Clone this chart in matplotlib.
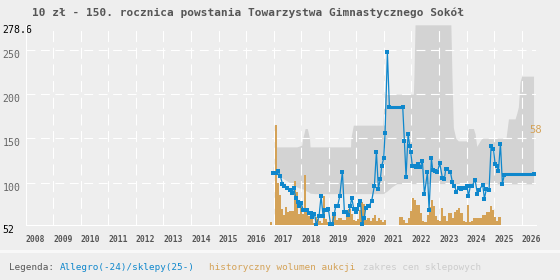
import matplotlib
matplotlib.use("Agg")
import matplotlib.pyplot as plt
from matplotlib.patches import Rectangle
import matplotlib.transforms as mtransforms

# --- data ---
title = "10 zł - 150. rocznica powstania Towarzystwa Gimnastycznego Sokół"

# shop price range (zakres cen sklepowych)
shop_x = [2016.977, 2017.04, 2017.05, 2017.45, 2017.84, 2018.02, 2018.05, 2018.10, 2018.14,
          2018.22, 2018.26, 2018.30, 2018.32, 2018.50, 2019.79, 2019.80, 2019.89, 2020.96,
          2021.00, 2021.04, 2021.10, 2021.28, 2021.47, 2022.07, 2022.09, 2022.13, 2023.43,
          2023.47, 2023.52, 2023.61, 2023.70, 2024.00, 2024.07, 2024.25, 2024.31, 2024.37,
          2024.49, 2024.55, 2025.43, 2025.52, 2025.76, 2025.82, 2025.88, 2025.94, 2026.00,
          2026.43]
shop_hi = [118, 118, 140.4, 140.4, 140.4, 142.3, 150, 155.5, 161.2,
           161.2, 155.5, 150, 140.4, 140.4, 140.4, 150, 165, 165,
           190, 200, 200, 200, 200, 200, 220, 278.6, 278.6,
           220, 162.3, 150, 147.2, 147.2, 161.2, 161.2, 155, 141,
           147.2, 150, 150, 172.1, 172.1, 178.2, 185.7, 214, 220.5,
           220.5]
shop_lo = [112, 110, 110, 102.6, 95, 93, 93, 92, 91.3,
           90, 89.5, 88.5, 88, 87.5, 87.5, 87.5, 87.5, 87.5,
           88, 89, 90, 95, 98.8, 98.8, 98.8, 98.8, 98.8,
           98.8, 98.8, 98.8, 98.8, 98.8, 98.8, 98.8, 98.5, 98.5,
           98.5, 98.5, 98.5, 98.5, 98.5, 98.5, 98.5, 98.5, 98.5,
           98.5]

# Allegro / shop price points
price_x = [2016.965, 2017.074, 2017.146, 2017.243, 2017.316, 2017.388, 2017.485, 2017.582,
           2017.654, 2017.727, 2017.799, 2017.872, 2017.921, 2017.993, 2018.066, 2018.138,
           2018.211, 2018.284, 2018.356, 2018.405, 2018.477, 2018.550, 2018.647, 2018.719,
           2018.792, 2018.864, 2018.937, 2018.985, 2019.058, 2019.131, 2019.203, 2019.252,
           2019.324, 2019.397, 2019.493, 2019.566, 2019.639, 2019.711, 2019.784, 2019.832,
           2019.905, 2019.977, 2020.026, 2020.098, 2020.147, 2020.219, 2020.292, 2020.340,
           2020.413, 2020.461, 2020.558, 2020.655, 2020.728, 2020.800, 2020.873, 2020.921,
           2020.994, 2021.042, 2021.127, 2021.199, 2021.683, 2021.744, 2021.804, 2021.877,
           2021.937, 2021.974, 2022.034, 2022.107, 2022.155, 2022.228, 2022.325, 2022.397,
           2022.470, 2022.579, 2022.639, 2022.724, 2022.772, 2022.857, 2022.942, 2023.026,
           2023.123, 2023.196, 2023.244, 2023.305, 2023.414, 2023.486, 2023.559, 2023.631,
           2023.728, 2023.801, 2023.874, 2023.958, 2024.019, 2024.067, 2024.140, 2024.212,
           2024.309, 2024.394, 2024.466, 2024.587, 2024.648, 2024.721, 2024.817, 2024.890,
           2024.975, 2025.035, 2025.107, 2025.156, 2025.229, 2025.301, 2025.373, 2026.438]
price_y = [111.3, 111.3, 113.6, 107.2, 98.8, 96.6, 94.3, 92.0,
           88.6, 94.3, 83.0, 78.1, 73.9, 77.3, 69.4, 69.4,
           69.4, 65.6, 65.6, 61.0, 64.8, 52.0, 62.5, 84.5,
           62.5, 69.4, 69.4, 70.5, 53.5, 53.5, 64.8, 73.9,
           73.9, 84.5, 112.4, 67.1, 67.1, 63.7, 73.9, 83.0,
           70.5, 67.1, 70.5, 75.0, 78.8, 53.5, 60.3, 71.6,
           73.1, 73.1, 79.5, 96.6, 135.1, 93.2, 104.5, 119.2,
           127.5, 156.6, 247.3, 185.7, 185.7, 146.9, 106.4, 155.5,
           141.2, 134.4, 118.5, 118.5, 117.7, 120.8, 117.7, 124.9,
           86.7, 111.7, 69.4, 127.5, 113.9, 113.2, 112.1, 121.9,
           105.3, 104.5, 115.1, 115.5, 112.1, 100.3, 96.6, 89.8,
           94.3, 92.4, 93.9, 93.9, 96.2, 84.5, 96.6, 96.6,
           103.4, 86.7, 92.0, 97.7, 81.8, 93.2, 92.0, 141.5,
           138.5, 121.5, 118.9, 112.8, 144.2, 98.8, 109.0, 110.2]
# periods where the price is held flat (no new quotes)
hold_start = [2016.965, 2021.199, 2025.373]
hold_end = [2017.074, 2021.683, 2026.438]
hold_price = [111.3, 185.7, 110.2]

# historical auction volume, one bar per 4 weeks
vol_start = 2016.915
vol_step = 28 / 365.25
volume = [1.7, 0,
          58.0, 24.4, 17.7, 9.4, 5.6, 10.6, 7.5, 8.1, 8.1, 25.7, 19.2, 6.1, 13.2, 6.1,
          28.8, 8.1, 5.2, 3.3, 1.0, 4.8, 3.6, 2.3, 1.3, 16.7, 3.6, 1.7, 0.4, 6.1, 5.6,
          2.7, 3.8, 3.8, 2.7, 2.7, 5.2, 9.4, 6.1, 2.7, 2.1, 3.6, 8.6, 13.4, 12.3, 2.7,
          4.2, 2.3, 3.8, 5.6, 2.3, 3.8, 2.7, 1.7, 2.7,
          0, 0, 0, 0, 0, 0,
          4.6, 4.6, 2.7, 1.3, 4.2, 8.1, 15.4, 14.8, 11.9, 11.9, 7.1, 2.3, 1.7, 5.8,
          10.4, 14.8, 10.9, 5.2, 2.9, 2.3, 9.6, 5.2, 2.3, 7.1, 6.7, 3.8, 7.7, 9.0, 9.6,
          7.1, 2.3, 1.9, 11.5, 1.9, 2.3, 4.2, 3.8, 3.8, 4.2, 5.8, 5.8, 7.7, 7.7, 10.9,
          9.0, 4.6, 2.3, 4.6]

years = list(range(2008, 2027))
y_ticks = [52, 100, 150, 200, 250, 278.6]
y_labels = ["52", "100", "150", "200", "250", "278.6"]

legend_parts = ["Legenda: ", "Allegro(-24)/sklepy(25-)", "historyczny wolumen aukcji",
                "zakres cen sklepowych"]

# --- style ---
BG = "#eeeeee"
BLUE = "#0f87cc"
ORANGE = "#d4a257"
BAND = "#d3d3d3"
MONO = "DejaVu Sans Mono"

fig = plt.figure(figsize=(5.6, 2.8), dpi=100, facecolor=BG)
W, H = 560, 280
ax = fig.add_axes([25.7 / W, 1 - 225 / H, (536 - 25.7) / W, (225 - 24.8) / H])
ax.set_facecolor(BG)
ax.set_xlim(2008, 2026.52)
ax.set_ylim(52, 278.6)

# shop range band
ax.fill_between(shop_x, shop_lo, shop_hi, color=BAND, lw=0, zorder=1)

# grid
for v in y_ticks[1:-1]:
    ax.axhline(v, color="white", lw=0.8, ls=(0, (8, 5)), zorder=2)
for yr in years[1:]:
    ax.axvline(yr, color="white", lw=0.8, ls=(0, (10, 5)), zorder=2)

for s in ["top", "right"]:
    ax.spines[s].set_visible(False)
for s in ["left", "bottom"]:
    ax.spines[s].set_color("white")
    ax.spines[s].set_linewidth(0.8)

ax.set_xticks(years)
ax.set_xticklabels([str(y) for y in years], ha="left", fontfamily=MONO,
                   fontweight="bold", fontsize=5.8, color="#555555")
ax.tick_params(axis="x", length=0, pad=7.5)
ax.set_yticks(y_ticks)
ax.set_yticklabels(y_labels, fontfamily=MONO, fontsize=7.1)
ax.tick_params(axis="y", length=0, pad=16.5)
for lab in ax.get_yticklabels():
    lab.set_ha("left")
    lab.set_va("top")
    lab.set_color("black" if lab.get_text() in ("52", "278.6") else "#666666")

# volume bars on their own scale
axv = ax.twinx()
axv.set_ylim(0, max(volume) * 2.005)
vol_x = [vol_start + i * vol_step for i in range(len(volume))]
axv.bar(vol_x, volume, width=vol_step, color=ORANGE, lw=0, antialiased=False)
axv.axis("off")
axv.text((529 - 25.7) / (536 - 25.7), max(volume), f"{max(volume):.0f}",
         transform=mtransforms.blended_transform_factory(axv.transAxes, axv.transData),
         ha="left", va="top", color=ORANGE, fontsize=7.6, fontfamily=MONO)

# price line
axl = ax.twinx()
axl.set_ylim(ax.get_ylim())
axl.axis("off")
axl.plot(price_x, price_y, color=BLUE, lw=0.9, marker="s", ms=2.3, mew=0)
for x0, x1, p in zip(hold_start, hold_end, hold_price):
    axl.plot([x0, x1], [p, p], color=BLUE, lw=2.2, solid_capstyle="butt")

# title
fig.text(32 / W, 1 - 12.5 / H, title, ha="left", va="center", fontfamily=MONO,
         fontweight="bold", fontsize=8.0, color="#555555")

# legend strip
fig.patches.append(Rectangle((0, 1 - 253.3 / H), 1, 3.3 / H, transform=fig.transFigure,
                             color="#f8f8f8", lw=0))
legend_colors = ["#555555", BLUE, ORANGE, "#cccccc"]
legend_x = [9, 60.3, 209.3, 363.3]
for txt, c, lx in zip(legend_parts, legend_colors, legend_x):
    fig.text(lx / W, 1 - 267 / H, txt, ha="left", va="center", fontfamily=MONO,
             fontsize=6.7, color=c)

fig.savefig("out.png", dpi=100, facecolor=BG)
